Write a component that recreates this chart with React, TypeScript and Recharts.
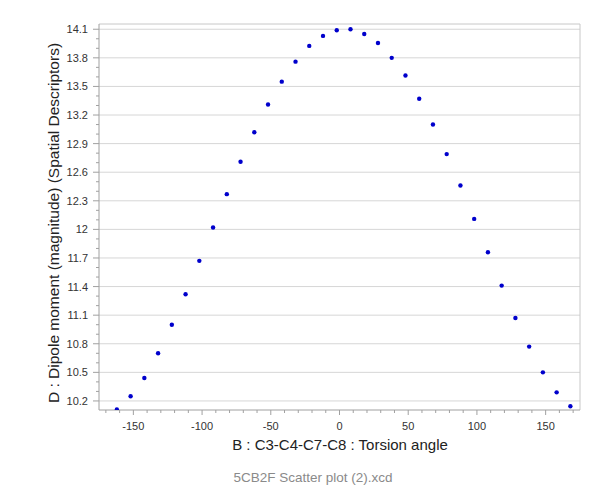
import React from 'react';
import { ScatterChart, Scatter, XAxis, YAxis, CartesianGrid, ReferenceLine } from 'recharts';

const torsionAngles = [
  -162, -152, -142, -132, -122, -112, -102, -92, -82, -72, -62, -52, -42, -32, -22, -12, -2,
  8, 18, 28, 38, 48, 58, 68, 78, 88, 98, 108, 118, 128, 138, 148, 158, 168,
];
const dipoleMoments = [
  10.11, 10.25, 10.44, 10.7, 11.0, 11.32, 11.67, 12.02, 12.37, 12.71, 13.02, 13.31, 13.55, 13.76,
  13.925, 14.03, 14.09, 14.1, 14.05, 13.955, 13.8, 13.615, 13.37, 13.1, 12.79, 12.46, 12.11,
  11.76, 11.41, 11.07, 10.77, 10.5, 10.29, 10.145,
];
const xMajorTicks = [-150, -100, -50, 0, 50, 100, 150];
const xAllTicks = [
  -170, -160, -150, -140, -130, -120, -110, -100, -90, -80, -70, -60, -50, -40, -30, -20, -10, 0,
  10, 20, 30, 40, 50, 60, 70, 80, 90, 100, 110, 120, 130, 140, 150, 160, 170,
];
const yMajorTicks = [10.2, 10.5, 10.8, 11.1, 11.4, 11.7, 12, 12.3, 12.6, 12.9, 13.2, 13.5, 13.8, 14.1];
const yAllTicks = [
  10.2, 10.3, 10.4, 10.5, 10.6, 10.7, 10.8, 10.9, 11, 11.1, 11.2, 11.3, 11.4, 11.5, 11.6, 11.7,
  11.8, 11.9, 12, 12.1, 12.2, 12.3, 12.4, 12.5, 12.6, 12.7, 12.8, 12.9, 13, 13.1, 13.2, 13.3, 13.4,
  13.5, 13.6, 13.7, 13.8, 13.9, 14, 14.1,
];
const xDomain = [-175, 175];
const yDomain = [10.105, 14.155];

const xTitle = 'B : C3-C4-C7-C8 : Torsion angle';
const yTitle = 'D : Dipole moment (magnitude) (Spatial Descriptors)';
const footer = '5CB2F Scatter plot (2).xcd';

const data = torsionAngles.map((a, i) => ({ x: a, y: dipoleMoments[i] }));

const FONT = '"Liberation Sans", Arial, sans-serif';
const AXIS = '#a0a0a0';

const XTick = (props: any) => {
  const { x, y, payload } = props;
  const major = xMajorTicks.includes(payload.value);
  return (
    <g>
      <line x1={x} x2={x} y1={y} y2={y + (major ? 5 : 3)} stroke={AXIS} />
      {major && (
        <text x={x} y={y + 20} textAnchor="middle" fontSize={11} fontFamily={FONT} fill="#333">
          {payload.value}
        </text>
      )}
    </g>
  );
};

const YTick = (props: any) => {
  const { x, y, payload } = props;
  const major = yMajorTicks.includes(payload.value);
  return (
    <g>
      <line x1={x - (major ? 6 : 3)} x2={x} y1={y} y2={y} stroke={AXIS} />
      {major && (
        <text x={x - 11} y={y + 4} textAnchor="end" fontSize={11} fontFamily={FONT} fill="#333">
          {payload.value}
        </text>
      )}
    </g>
  );
};

const Dot = (props: any) => {
  const { cx, cy } = props;
  return <circle cx={cx} cy={cy} r={2.2} fill="#0000cc" />;
};

export default function App() {
  return (
    <div style={{ position: 'absolute', left: 0, top: 0, width: 603, height: 502, background: '#fff' }}>
      <ScatterChart width={603} height={502} margin={{ top: 24, right: 23, bottom: 0, left: 0 }}>
        <CartesianGrid vertical={false} horizontalValues={yMajorTicks} stroke="#d6d6d6" />
        <XAxis
          type="number"
          dataKey="x"
          domain={xDomain}
          ticks={xAllTicks}
          interval={0}
          allowDataOverflow
          height={92}
          tickSize={0}
          tickMargin={0}
          tickLine={false}
          axisLine={{ stroke: AXIS }}
          tick={<XTick />}
        />
        <YAxis
          type="number"
          dataKey="y"
          domain={yDomain}
          ticks={yAllTicks}
          interval={0}
          allowDataOverflow
          width={99}
          tickSize={0}
          tickMargin={0}
          tickLine={false}
          axisLine={{ stroke: AXIS }}
          tick={<YTick />}
        />
        <ReferenceLine y={yDomain[1]} stroke="#c8c8c8" />
        <ReferenceLine x={xDomain[1]} stroke="#c8c8c8" />
        <Scatter data={data} shape={<Dot />} isAnimationActive={false} />
      </ScatterChart>
      <svg
        width={603}
        height={502}
        style={{ position: 'absolute', left: 0, top: 0, pointerEvents: 'none' }}
      >
        <text x={340} y={450} textAnchor="middle" fontSize={15} fontFamily={FONT} fill="#222">
          {xTitle}
        </text>
        <text
          x={0}
          y={0}
          transform="translate(59 223) rotate(-90)"
          textAnchor="middle"
          fontSize={15.5}
          fontFamily={FONT}
          fill="#222"
        >
          {yTitle}
        </text>
        <text x={313} y={482} textAnchor="middle" fontSize={13.5} fontFamily={FONT} fill="#8a8a8a">
          {footer}
        </text>
      </svg>
    </div>
  );
}
